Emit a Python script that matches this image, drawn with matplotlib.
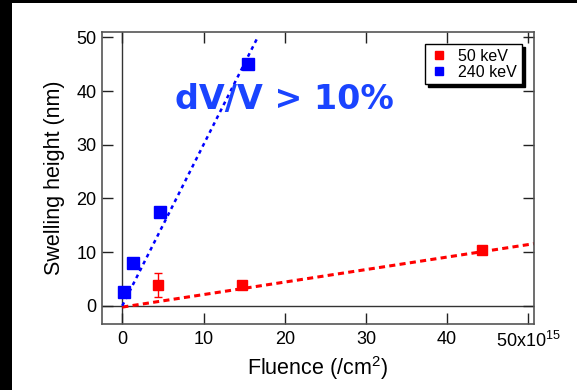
import matplotlib
matplotlib.use("Agg")
import matplotlib.pyplot as plt
from matplotlib.patches import Rectangle
import numpy as np

# data (fluence in 1e15 /cm^2, height in nm)
fluence_50 = [4.45, 14.8, 44.3]
height_50 = [3.9, 3.9, 10.3]
err_50 = [2.2, 0.0, 0.0]

fluence_240 = [0.25, 1.3, 4.7, 15.5]
height_240 = [2.6, 7.9, 17.4, 45.0]

# linear fits drawn as dashed lines: (slope, intercept, x end)
fit_50 = (0.233, -0.25, 50.8)
fit_240 = (3.0, 0.0, 16.6)

xticks = [0, 10, 20, 30, 40, 50]
xtick_labels = ["0", "10", "20", "30", "40", "50x10$^{15}$"]
yticks = [0, 10, 20, 30, 40, 50]

plt.rcParams["font.family"] = ["Liberation Sans", "DejaVu Sans"]
plt.rcParams["mathtext.fontset"] = "custom"
plt.rcParams["mathtext.rm"] = "Liberation Sans"
plt.rcParams["mathtext.default"] = "regular"

RED = "#ff0000"
BLUE = "#0000ff"
SPINE = "#555555"

fig = plt.figure(figsize=(5.77, 3.90), dpi=100)
fig.patch.set_facecolor("black")
# white page with the black strips left and top
fig.patches.append(Rectangle((12 / 577, 0), 1, 387 / 390, transform=fig.transFigure,
                             facecolor="white", edgecolor="none", zorder=-10))

ax = fig.add_axes([102 / 577, 1 - 324 / 390, 432 / 577, 292 / 390])
ax.set_facecolor("white")

ax.axhline(0, color="#333333", lw=1.0, zorder=1)
ax.axvline(0, color="#333333", lw=1.0, zorder=1)

xs = np.array([0, fit_50[2]])
ax.plot(xs, fit_50[0] * xs + fit_50[1], color=RED, lw=2.2,
        linestyle=(0, (2.0, 1.4)), zorder=2)
xs = np.array([0, fit_240[2]])
ax.plot(xs, fit_240[0] * xs + fit_240[1], color=BLUE, lw=1.8,
        linestyle=(0, (1.5, 1.6)), zorder=2)

ax.errorbar(fluence_50, height_50, yerr=err_50, fmt="s", color=RED, ms=7,
            ecolor=RED, elinewidth=1, capsize=3, capthick=1, label="50 keV", zorder=3)
ax.plot(fluence_240, height_240, "s", color=BLUE, ms=8.5, label="240 keV", zorder=3)

ax.text(6.5, 36.7, "dV/V > 10%", color="#1a44ff", fontsize=24, fontweight="bold",
        family="DejaVu Sans", ha="left", va="baseline")

ax.set_xlim(-2.5, 50.7)
ax.set_ylim(-3.4, 51.0)
ax.set_xticks(xticks)
ax.set_xticklabels(xtick_labels)
ax.set_yticks(yticks)

for s in ax.spines.values():
    s.set_color(SPINE)
    s.set_linewidth(1.2)
ax.tick_params(direction="in", length=8, width=1, color="#222222",
               top=True, right=True, labelsize=13)
ax.tick_params(axis="x", pad=5)
ax.tick_params(axis="y", pad=4)

ax.set_xlabel("Fluence (/cm$^2$)", fontsize=15.5, labelpad=2)
ax.set_ylabel("Swelling height (nm)", fontsize=15.5, labelpad=8)

handles = [plt.Line2D([], [], marker="s", ls="none", color=RED, ms=6),
           plt.Line2D([], [], marker="s", ls="none", color=BLUE, ms=6)]
leg = ax.legend(handles, ["50 keV", "240 keV"], loc="upper right",
                bbox_to_anchor=(0.972, 0.959), fontsize=11.5, frameon=True,
                fancybox=False, shadow={"color": "black", "alpha": 1},
                edgecolor="black", borderpad=0.3, labelspacing=0.05,
                handlelength=1.2, handletextpad=0.6, borderaxespad=0)
leg.get_frame().set_linewidth(1.0)

fig.savefig("out.png", dpi=100, facecolor=fig.get_facecolor())
